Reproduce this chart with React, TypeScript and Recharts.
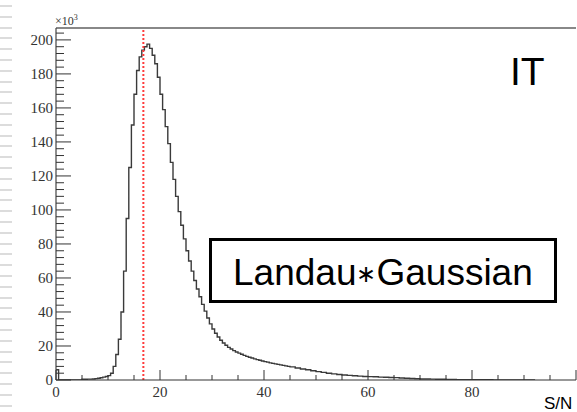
import React from 'react';
import { LineChart, Line, XAxis, YAxis, ReferenceLine } from 'recharts';

// Histogram bin left edges (S/N) and counts (x10^3)
const binStarts = [
  0, 0.5, 1, 1.5, 2, 2.5, 3, 3.5, 4, 4.5,
  5, 5.5, 6, 6.5, 7, 7.5, 8, 8.5, 9, 9.5,
  10, 10.5, 11, 11.5, 12, 12.5, 13, 13.5, 14, 14.5,
  15, 15.5, 16, 16.5, 17, 17.5, 18, 18.5, 19, 19.5,
  20, 20.5, 21, 21.5, 22, 22.5, 23, 23.5, 24, 24.5,
  25, 25.5, 26, 26.5, 27, 27.5, 28, 28.5, 29, 29.5,
  30, 30.5, 31, 31.5, 32, 32.5, 33, 33.5, 34, 34.5,
  35, 35.5, 36, 36.5, 37, 37.5, 38, 38.5, 39, 39.5,
  40, 40.5, 41, 41.5, 42, 42.5, 43, 43.5, 44, 44.5,
  45, 46, 47, 48, 49, 50, 51, 52, 53, 54,
  55, 56, 57, 58, 59, 60, 61, 62, 63, 64,
  65, 66, 67, 68, 69, 70, 71, 72, 73, 74,
  75, 76, 77, 78, 79, 80, 81, 82, 83, 84,
  85, 86, 87, 88, 89, 90, 91, 92,
];
const counts = [
  6, 0, 0, 0, 0, 0, 0, 0, 0, 0,
  0.4, 0.4, 0.5, 0.5, 0.6, 0.8, 1.0, 1.3, 1.7, 2.1,
  2.6, 4.0, 8.0, 15, 24, 40, 64, 95, 125, 150,
  168, 182, 190, 194, 196, 197.5, 195, 191, 186, 178,
  168, 159, 149, 139, 128, 118, 108, 99, 91, 83,
  76, 70, 64, 58.5, 53.5, 49, 44.5, 40.5, 36.5, 33,
  30, 27.5, 25.3, 23.4, 21.8, 20.4, 19.2, 18.2, 17.3, 16.5,
  15.8, 15.1, 14.5, 13.9, 13.4, 12.9, 12.4, 12.0, 11.6, 11.2,
  10.8, 10.5, 10.1, 9.8, 9.5, 9.2, 8.9, 8.6, 8.3, 8.0,
  7.7, 7.1, 6.5, 6.0, 5.4, 4.9, 4.5, 4.0, 3.6, 3.2,
  2.9, 2.7, 2.5, 2.3, 2.1, 2.0, 1.9, 1.7, 1.6, 1.5,
  1.4, 1.2, 1.0, 0.9, 0.7, 0.6, 0.55, 0.5, 0.45, 0.4,
  0.35, 0.3, 0.25, 0.2, 0.2, 0.2, 0.15, 0.15, 0.15, 0.1,
  0.1, 0.1, 0.1, 0.1, 0.1, 0.1, 0.1, 0,
];

const xTicks = [0, 5, 10, 15, 20, 25, 30, 35, 40, 45, 50, 55, 60, 65, 70, 75, 80, 85, 90, 95, 100];
const xMajor = [0, 20, 40, 60, 80, 100];
const yTicks = [
  0, 4, 8, 12, 16, 20, 24, 28, 32, 36, 40, 44, 48, 52, 56, 60, 64, 68, 72, 76,
  80, 84, 88, 92, 96, 100, 104, 108, 112, 116, 120, 124, 128, 132, 136, 140,
  144, 148, 152, 156, 160, 164, 168, 172, 176, 180, 184, 188, 192, 196, 200, 204,
];
const yMajor = [0, 20, 40, 60, 80, 100, 120, 140, 160, 180, 200];
const peakSN = 16.8;
const yTop = 207;

const data = binStarts.map((x, i) => ({ x, count: counts[i] }));

const serif = '"Liberation Serif", "Times New Roman", Times, serif';
const sans = '"Liberation Sans", Arial, Helvetica, sans-serif';
const tickStyle: React.CSSProperties = { fontFamily: serif, fontSize: 15, fill: '#333' };

const XTick = (props: any) => {
  const { x, y, payload } = props;
  const v = payload.value;
  const major = xMajor.includes(v);
  return (
    <g>
      <line x1={x} x2={x} y1={y} y2={y - (major ? 10 : 5)} stroke="#333" strokeWidth={1} />
      {major && v !== 100 && (
        <text x={x} y={y + 17} textAnchor="middle" style={tickStyle}>{v}</text>
      )}
    </g>
  );
};

const YTick = (props: any) => {
  const { x, y, payload } = props;
  const v = payload.value;
  const major = yMajor.includes(v);
  return (
    <g>
      <line x1={x} x2={x + (major ? 15 : 8)} y1={y} y2={y} stroke="#333" strokeWidth={1} />
      {major && (
        <text x={x - 3} y={y + 5} textAnchor="end" style={tickStyle}>{v}</text>
      )}
    </g>
  );
};

export default function App() {
  return (
    <div style={{ position: 'absolute', left: 0, top: 0, width: 577, height: 412, overflow: 'hidden', background: '#fff' }}>
      <div
        style={{
          position: 'absolute', left: 0, top: 5, width: 12, height: 407,
          backgroundImage: 'repeating-linear-gradient(to bottom, #dcdcdc 0px, #dcdcdc 2px, transparent 2px, transparent 10.8px)',
        }}
      />
      <div style={{ position: 'absolute', left: 0, top: 0 }}>
        <LineChart width={577} height={412} data={data} margin={{ top: 28, right: 1, bottom: 0, left: 0 }}>
          <XAxis
            dataKey="x"
            type="number"
            domain={[0, 100]}
            ticks={xTicks}
            interval={0}
            tickSize={0}
            tickMargin={0}
            tickLine={false}
            tick={<XTick />}
            height={32}
            allowDataOverflow
            axisLine={{ stroke: '#333', strokeWidth: 1.2 }}
          />
          <YAxis
            type="number"
            domain={[0, yTop]}
            ticks={yTicks}
            interval={0}
            tickSize={0}
            tickMargin={0}
            tickLine={false}
            tick={<YTick />}
            width={56}
            allowDataOverflow
            axisLine={{ stroke: '#444', strokeWidth: 1.2 }}
          />
          <ReferenceLine y={yTop} stroke="#888" strokeWidth={2} />
          <Line
            type="stepAfter"
            dataKey="count"
            stroke="#3a3a3a"
            strokeWidth={1.4}
            dot={false}
            isAnimationActive={false}
          />
          <ReferenceLine x={peakSN} stroke="#ff3b3b" strokeWidth={2} strokeDasharray="2 2" />
        </LineChart>
      </div>
      <svg width={577} height={412} style={{ position: 'absolute', left: 0, top: 0, pointerEvents: 'none' }}>
        <text x={55} y={25} style={{ fontFamily: serif, fontSize: 12, fill: '#333' }}>
          ×10<tspan dy={-5} style={{ fontSize: 8 }}>3</tspan>
        </text>
        <text x={510} y={85} style={{ fontFamily: sans, fontSize: 39, fill: '#000' }}>IT</text>
        <rect x={210.5} y={239.5} width={345} height={62} fill="#fff" stroke="#000" strokeWidth={3} />
        <text x={233} y={285} style={{ fontFamily: sans, fontSize: 37, fill: '#000' }}>
          Landau<tspan style={{ fontSize: 24 }} dy={-3}>∗</tspan><tspan dy={3}>Gaussian</tspan>
        </text>
        <text x={544} y={409} style={{ fontFamily: sans, fontSize: 17, fill: '#000' }}>S/N</text>
      </svg>
    </div>
  );
}
